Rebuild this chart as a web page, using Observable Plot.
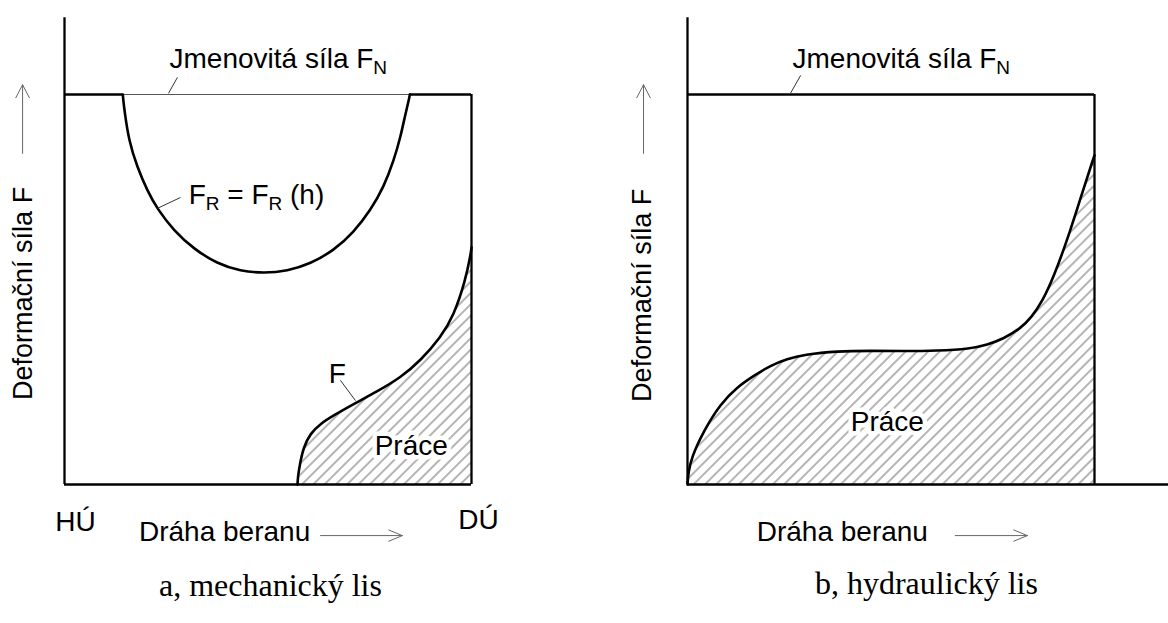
<!DOCTYPE html>
<html><head><meta charset="utf-8">
<script src="https://cdn.jsdelivr.net/npm/d3@7"></script>
<script src="https://cdn.jsdelivr.net/npm/@observablehq/plot@0.6"></script>
<style>
html,body{margin:0;padding:0;background:#fff;}
#wrap{position:relative;width:1168px;height:623px;overflow:hidden;background:#fff;}
#wrap svg{position:absolute;top:0;}
</style></head><body><div id="wrap"></div>
<script>
// ---------- data (x = dráha beranu 0=HÚ..1=DÚ, y = síla, 1 = jmenovitá síla F_N) ----------
const nominalForce = 1;
const axisTop = 1.197;
const baselineEndB = 1.182;

// panel a – mechanický lis: F_R = F_R(h)
const frPath  = [0.1432,0.1445,0.1474,0.1580,0.1786,0.2032,0.2277,0.2686,0.3177,0.3751,0.4324,0.4897,0.5470,0.6044,0.6617,0.7108,0.7518,0.7846,0.8091,0.8256,0.8378,0.8470,0.8484];
const frForce = [1.0,0.985,0.959,0.882,0.814,0.754,0.707,0.651,0.604,0.566,0.547,0.542,0.547,0.566,0.600,0.647,0.703,0.763,0.831,0.891,0.951,0.990,1.0];
// panel a – deformační síla F
const fAPath  = [0.5725,0.5735,0.578,0.587,0.604,0.629,0.661,0.710,0.769,0.826,0.875,0.924,0.956,0.985,0.998,1.0];
const fAForce = [0,0.020,0.050,0.095,0.131,0.156,0.177,0.206,0.239,0.274,0.318,0.377,0.432,0.523,0.590,0.608];
// panel b – hydraulický lis: deformační síla F
const fBPath  = [0,0.002,0.010,0.040,0.081,0.122,0.163,0.204,0.245,0.286,0.368,0.450,0.532,0.613,0.695,0.736,0.777,0.818,0.845,0.872,0.900,0.941,0.974,0.997,1.0];
const fBForce = [0,0.030,0.070,0.138,0.207,0.250,0.279,0.305,0.322,0.333,0.342,0.343,0.342,0.343,0.348,0.358,0.374,0.400,0.428,0.470,0.532,0.651,0.762,0.835,0.844];

// texts
const yTitle = "Deformační síla F";
const xTitle = "Dráha beranu";
const nominalLabel = "Jmenovitá síla F_N";
const frLabel = "F_R = F_R (h)";
const fLabel = "F";
const workLabel = "Práce";
const startLabel = "HÚ";
const endLabel = "DÚ";
const captions = ["a, mechanický lis", "b, hydraulický lis"];

// annotation anchors (data units)
const labelsA = [
  {x:0.258, y:1.069, text:nominalLabel, anchor:"start"},
  {x:0.305, y:0.7205, text:frLabel, anchor:"start"},
  {x:0.649, y:0.2615, text:fLabel, anchor:"start"},
  {x:0.027, y:-0.118, text:startLabel, anchor:"middle"},
  {x:1.017, y:-0.113, text:endLabel, anchor:"middle"},
  {x:0.183, y:-0.146, text:xTitle, anchor:"start"}
];
const labelsB = [
  {x:0.258, y:1.069, text:nominalLabel, anchor:"start"},
  {x:0.170, y:-0.146, text:xTitle, anchor:"start"}
];
const leadersA = [
  {x1:0.2555, y1:1.003, x2:0.2776, y2:1.044},
  {x1:0.2285, y1:0.708, x2:0.285, y2:0.736},
  {x1:0.678, y1:0.267, x2:0.715, y2:0.215}
];
const leadersB = [
  {x1:0.253, y1:1.003, x2:0.278, y2:1.049}
];
const workA = [{x:0.852, y:0.0744}];
const workB = [{x:0.491, y:0.138}];
const yTitleA = [{x:-0.1007, y:0.49}];
const yTitleB = [{x:-0.111, y:0.485}];
const yArrowA = [{x1:-0.103, y1:0.849, x2:-0.103, y2:1.025}];
const yArrowB = [{x1:-0.108, y1:0.849, x2:-0.108, y2:1.025}];
const xArrowA = [{x1:0.629, y1:-0.131, x2:0.830, y2:-0.131}];
const xArrowB = [{x1:0.658, y1:-0.131, x2:0.835, y2:-0.131}];
const captionA = [{x:0.506, y:-0.287}];
const captionB = [{x:0.587, y:-0.282}];

// ---------- helpers ----------
const ns = "http://www.w3.org/2000/svg";
const pts = (xs, ys) => xs.map((x, i) => ({x, y: ys[i]}));
function hatchDefs(id) {
  return () => {
    const defs = document.createElementNS(ns, "defs");
    const p = document.createElementNS(ns, "pattern");
    p.setAttribute("id", id);
    p.setAttribute("patternUnits", "userSpaceOnUse");
    p.setAttribute("width", "8");
    p.setAttribute("height", "10");
    p.setAttribute("patternTransform", "rotate(45)");
    const l = document.createElementNS(ns, "line");
    l.setAttribute("x1", "4"); l.setAttribute("x2", "4");
    l.setAttribute("y1", "-1"); l.setAttribute("y2", "11");
    l.setAttribute("stroke", "#444");
    l.setAttribute("stroke-width", "0.8");
    p.appendChild(l); defs.appendChild(p);
    return defs;
  };
}
function subscripts(svg) {
  d3.select(svg).selectAll("text").each(function () {
    const t = this.textContent;
    if (!t.includes("_")) return;
    const parts = t.split(/_(\w)/);
    this.textContent = "";
    parts.forEach((s, i) => {
      if (!s) return;
      const ts = document.createElementNS(ns, "tspan");
      ts.textContent = s;
      if (i % 2 === 1) { ts.setAttribute("font-size", "0.68em"); ts.setAttribute("dy", "6"); }
      else if (i > 0) { ts.setAttribute("dy", "-6"); }
      this.appendChild(ts);
    });
  });
}
const frame = {stroke: "black", strokeWidth: 2.3};
const smooth = "basis";
const curve = {stroke: "black", strokeWidth: 2.6, curve: smooth};
const sans = 28;

function makePlot(o) {
  const starts = o.labels.filter(d => d.anchor === "start");
  const mids = o.labels.filter(d => d.anchor === "middle");
  const marks = [
    hatchDefs(o.hatchId),
    Plot.areaY(o.f, {x: "x", y: "y", curve: smooth, fill: `url(#${o.hatchId})`}),
    Plot.ruleX([0], {y1: 0, y2: axisTop, ...frame}),
    Plot.ruleX([1], {y1: 0, y2: nominalForce, ...frame}),
    Plot.ruleY([0], {x1: 0, x2: o.baselineEnd, ...frame})
  ];
  if (o.fr) {
    const a = o.fr[0].x, b = o.fr[o.fr.length - 1].x;
    marks.push(
      Plot.ruleY([nominalForce], {x1: 0, x2: a, ...frame}),
      Plot.ruleY([nominalForce], {x1: a, x2: b, stroke: "#555", strokeWidth: 1.1}),
      Plot.ruleY([nominalForce], {x1: b, x2: 1, ...frame}),
      Plot.line(o.fr, {x: "x", y: "y", ...curve})
    );
  } else {
    marks.push(Plot.ruleY([nominalForce], {x1: 0, x2: 1, ...frame}));
  }
  marks.push(
    Plot.line(o.f, {x: "x", y: "y", ...curve}),
    Plot.link(o.leaders, {x1: "x1", y1: "y1", x2: "x2", y2: "y2", stroke: "#333", strokeWidth: 1}),
    Plot.text(o.work, {x: "x", y: "y", text: () => workLabel, fontSize: sans, textAnchor: "middle", lineAnchor: "bottom", fill: "black", stroke: "white", strokeWidth: 9}),
    Plot.text(starts, {x: "x", y: "y", text: "text", textAnchor: "start", fontSize: sans, lineAnchor: "bottom", fill: "black"}),
    Plot.text(mids, {x: "x", y: "y", text: "text", textAnchor: "middle", fontSize: sans, lineAnchor: "bottom", fill: "black"}),
    Plot.text(o.yT, {x: "x", y: "y", text: () => yTitle, rotate: -90, fontSize: 27, textAnchor: "middle", lineAnchor: "middle", fill: "black"}),
    Plot.arrow(o.yA, {x1: "x1", y1: "y1", x2: "x2", y2: "y2", stroke: "#666", strokeWidth: 1, headLength: 22, headAngle: 55}),
    Plot.arrow(o.xA, {x1: "x1", y1: "y1", x2: "x2", y2: "y2", stroke: "#666", strokeWidth: 1, headLength: 22, headAngle: 45}),
    Plot.text(o.cap, {x: "x", y: "y", text: () => o.caption, fontSize: 32, fontFamily: "Liberation Serif, Times New Roman, serif", textAnchor: "middle", lineAnchor: "bottom", fill: "black"})
  );
  const svg = Plot.plot({
    width: 584, height: 623,
    x: {domain: [0, 1], range: o.xRange, axis: null},
    y: {domain: [0, 1], range: [484, 94], axis: null},
    style: {fontFamily: "Liberation Sans, Arial, sans-serif", background: "transparent", overflow: "visible"},
    marks
  });
  subscripts(svg);
  return svg;
}

const svgA = makePlot({
  xRange: [64, 471], hatchId: "hatchA",
  f: pts(fAPath, fAForce), fr: pts(frPath, frForce),
  labels: labelsA, leaders: leadersA, work: workA,
  yT: yTitleA, yA: yArrowA, xA: xArrowA, cap: captionA, caption: captions[0], baselineEnd: 1
});
const svgB = makePlot({
  xRange: [103, 510], hatchId: "hatchB",
  f: pts(fBPath, fBForce), fr: null,
  labels: labelsB, leaders: leadersB, work: workB,
  yT: yTitleB, yA: yArrowB, xA: xArrowB, cap: captionB, caption: captions[1], baselineEnd: baselineEndB
});
svgA.style.left = "0px";
svgB.style.left = "584px";
const wrap = document.getElementById("wrap");
wrap.appendChild(svgA);
wrap.appendChild(svgB);
</script>
</body></html>
